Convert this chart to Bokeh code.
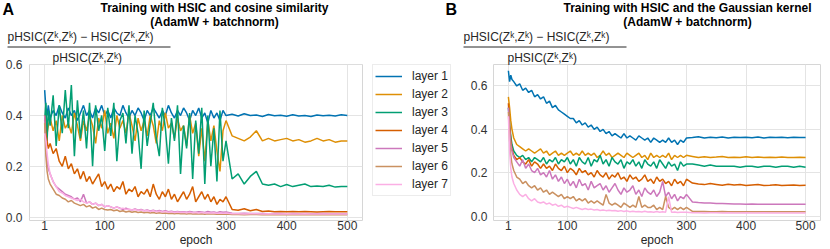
import numpy as np
from bokeh.plotting import figure
from bokeh.models import (Range1d, FixedTicker, Legend, LegendItem,
                          ColumnDataSource, NumeralTickFormatter)
from bokeh.layouts import row, column
from bokeh.core.properties import value
from bokeh.embed import file_html
from bokeh.resources import INLINE

# ---------------- data ----------------
epochs = [1, 3, 5, 7] + list(range(10, 301, 5)) + list(range(310, 501, 10))
layer_names = ["layer 1", "layer 2", "layer 3", "layer 4", "layer 5", "layer 6", "layer 7"]
colors = ["#0173B2", "#DE8F05", "#029E73", "#D55E00", "#CC78BC", "#CA9161", "#FBAFE4"]
x_ticks = [1, 100, 200, 300, 400, 500]
y_ticks = [0.0, 0.2, 0.4, 0.6]
titles_a = ["Training with HSIC and cosine similarity", "(AdamW + batchnorm)"]
titles_b = ["Training with HSIC and the Gaussian kernel", "(AdamW + batchnorm)"]
ylabel_num = "pHSIC(Z\u1d4f,Z\u1d4f) \u2212 HSIC(Z\u1d4f,Z\u1d4f)"
ylabel_den = "pHSIC(Z\u1d4f,Z\u1d4f)"
xlabel = "epoch"

# Panel A: HSIC + cosine similarity
a1 = [.50, .43, .40, .44,
      .39, .42, .40, .44, .41, .39, .43, .40, .42, .38,
      .41, .44, .40, .42, .39, .43, .41, .44, .40, .42,
      .39, .43, .41, .40, .44, .41, .39, .42, .40, .43,
      .41, .38, .42, .40, .43, .41, .39, .42, .40, .44,
      .41, .39, .42, .40, .43, .41, .38, .42, .40, .43,
      .39, .41, .37, .42, .39, .41, .38, .42, .40,
      .405, .398, .407, .400, .402, .396, .404, .399, .401, .397,
      .403, .398, .400, .396, .402, .399, .401, .398, .403, .400]
a2 = [.38, .40, .33, .36,
      .39, .34, .38, .30, .40, .35, .37, .33, .41, .36,
      .30, .38, .34, .40, .36, .29, .39, .35, .42, .33,
      .37, .31, .40, .35, .38, .33, .41, .36, .30, .39,
      .34, .38, .32, .40, .36, .29, .38, .34, .41, .35,
      .37, .31, .39, .34, .36, .28, .40, .33, .37, .24,
      .35, .22, .38, .30, .36, .26, .18, .34, .38,
      .32, .31, .30, .315, .34, .30, .31, .30, .305, .31,
      .30, .305, .295, .30, .31, .30, .305, .295, .30, .30]
a3 = [.38, .45, .30, .42,
      .36, .48, .28, .44, .33, .50, .35, .52, .24, .46,
      .31, .42, .27, .45, .20, .44, .34, .40, .26, .43,
      .32, .45, .22, .38, .41, .29, .44, .25, .40, .33,
      .19, .42, .28, .37, .45, .31, .24, .43, .35, .21,
      .39, .30, .44, .17, .36, .27, .41, .15, .38, .25,
      .43, .13, .40, .20, .35, .14, .42, .22, .30,
      .15, .17, .13, .16, .18, .13, .125, .13, .12, .128,
      .12, .125, .13, .12, .122, .12, .125, .118, .12, .12]
a4 = [.40, .33, .30, .27,
      .29, .25, .27, .22, .20, .24, .19, .21, .17, .19,
      .15, .18, .14, .16, .13, .15, .17, .12, .14, .11,
      .13, .10, .12, .11, .14, .09, .11, .10, .12, .08,
      .10, .09, .11, .08, .13, .09, .07, .10, .08, .11,
      .07, .09, .06, .08, .10, .07, .09, .12, .06, .08,
      .10, .07, .09, .06, .08, .05, .07, .06, .08,
      .030, .027, .033, .025, .030, .022, .024, .021, .022, .021,
      .022, .021, .022, .021, .020, .021, .022, .021, .021, .021]
a5 = [.40, .28, .22, .19,
      .17, .14, .12, .11, .10, .09, .085, .08, .07, .075,
      .06, .09, .055, .06, .05, .055, .045, .05, .04, .045,
      .04, .035, .04, .035, .03, .035, .03, .028, .032, .027,
      .03, .025, .028, .024, .027, .023, .026, .022, .025, .021,
      .023, .020, .022, .020, .021, .019, .022, .020, .019, .021,
      .020, .018, .022, .019, .020, .017, .021, .019, .020,
      .015, .014, .015, .014, .014, .014, .013, .014, .014, .013,
      .014, .013, .014, .013, .013, .014, .013, .013, .013, .013]
a6 = [.37, .24, .18, .15,
      .13, .11, .09, .085, .075, .07, .06, .065, .055, .05,
      .045, .05, .04, .045, .035, .04, .03, .035, .03, .028,
      .03, .025, .028, .022, .025, .02, .023, .019, .022, .018,
      .02, .017, .019, .016, .018, .015, .017, .015, .016, .014,
      .015, .013, .015, .013, .014, .012, .014, .012, .013, .012,
      .013, .011, .013, .012, .012, .011, .012, .011, .012,
      .010, .010, .009, .010, .010, .009, .010, .009, .009, .010,
      .009, .009, .010, .009, .009, .009, .009, .009, .009, .009]
a7 = [.33, .30, .25, .21,
      .17, .14, .12, .10, .095, .085, .08, .075, .07, .065,
      .07, .06, .055, .06, .05, .055, .045, .05, .04, .045,
      .04, .035, .04, .033, .035, .03, .032, .028, .03, .026,
      .028, .024, .026, .022, .025, .021, .023, .02, .022, .019,
      .021, .018, .02, .018, .019, .017, .019, .017, .018, .016,
      .018, .016, .017, .016, .017, .015, .016, .015, .016,
      .013, .013, .012, .013, .013, .012, .013, .012, .012, .013,
      .012, .012, .013, .012, .012, .012, .012, .012, .012, .012]

# Panel B: HSIC + Gaussian kernel
b1 = [.67, .62, .65, .63,
      .62, .60, .61, .58, .59, .57, .58, .55, .56, .54,
      .55, .52, .53, .50, .51, .49, .48, .47, .46, .45,
      .45, .43, .44, .42, .43, .41, .42, .40, .41, .39,
      .40, .38, .39, .37, .38, .37, .36, .38, .36, .37,
      .36, .35, .37, .36, .35, .36, .34, .36, .35, .34,
      .35, .34, .36, .34, .35, .33, .35, .34, .36,
      .362, .366, .360, .364, .361, .365, .360, .363, .362, .364,
      .361, .365, .360, .363, .362, .364, .361, .363, .362, .362]
b2 = [.55, .50, .44, .40,
      .36, .33, .32, .31, .30, .31, .30, .29, .30, .31,
      .29, .30, .28, .29, .30, .28, .29, .28, .29, .30,
      .28, .29, .28, .30, .28, .29, .28, .29, .27, .28,
      .30, .28, .29, .27, .28, .29, .28, .27, .29, .28,
      .27, .28, .29, .27, .28, .26, .29, .27, .28, .27,
      .28, .27, .29, .26, .28, .27, .28, .27, .28,
      .275, .270, .274, .270, .272, .275, .270, .271, .270, .273,
      .270, .272, .270, .271, .270, .272, .270, .270, .271, .270]
b3 = [.50, .42, .37, .33,
      .30, .28, .27, .28, .26, .27, .25, .27, .26, .25,
      .27, .24, .26, .25, .27, .24, .26, .25, .27, .24,
      .26, .23, .27, .25, .24, .27, .23, .26, .25, .28,
      .24, .26, .23, .27, .25, .24, .26, .22, .25, .24,
      .26, .23, .25, .22, .26, .24, .23, .25, .22, .26,
      .24, .22, .25, .23, .24, .21, .25, .23, .24,
      .240, .235, .230, .235, .230, .230, .230, .230, .225, .230,
      .230, .225, .230, .230, .225, .230, .230, .225, .230, .225]
b4 = [.52, .42, .35, .31,
      .28, .26, .27, .25, .24, .26, .23, .25, .24, .22,
      .24, .22, .23, .21, .24, .22, .21, .23, .20, .22,
      .21, .19, .22, .20, .21, .19, .20, .18, .21, .19,
      .18, .20, .17, .19, .18, .20, .17, .18, .16, .19,
      .17, .18, .16, .17, .19, .16, .17, .15, .18, .16,
      .17, .15, .16, .14, .17, .15, .16, .14, .17,
      .152, .148, .145, .150, .146, .142, .147, .143, .145, .141,
      .143, .145, .141, .142, .144, .141, .142, .143, .141, .142]
b5 = [.50, .40, .33, .30,
      .27, .25, .23, .26, .22, .24, .21, .20, .22, .19,
      .20, .18, .21, .17, .19, .16, .18, .15, .17, .14,
      .16, .13, .17, .14, .15, .12, .16, .13, .14, .15,
      .12, .14, .11, .13, .15, .12, .10, .13, .11, .12,
      .14, .10, .12, .09, .13, .11, .10, .12, .09, .11,
      .16, .09, .11, .08, .10, .07, .09, .08, .10,
      .065, .062, .060, .060, .058, .058, .057, .056, .056, .055,
      .056, .055, .055, .055, .054, .055, .055, .054, .055, .055]
b6 = [.48, .35, .28, .24,
      .21, .18, .17, .15, .16, .14, .13, .14, .12, .13,
      .11, .12, .10, .11, .10, .09, .10, .08, .09, .08,
      .09, .07, .08, .07, .08, .06, .07, .06, .07, .06,
      .05, .10, .06, .05, .06, .05, .04, .06, .05, .04,
      .05, .04, .09, .04, .05, .04, .04, .05, .03, .04,
      .03, .09, .04, .03, .04, .03, .04, .03, .04,
      .022, .021, .021, .020, .020, .021, .020, .020, .020, .020,
      .020, .020, .020, .020, .020, .020, .020, .020, .020, .020]
b7 = [.46, .30, .22, .18,
      .15, .12, .10, .09, .10, .08, .07, .08, .065, .06,
      .065, .055, .06, .05, .055, .045, .05, .04, .045, .04,
      .035, .04, .035, .03, .035, .03, .032, .028, .03, .026,
      .028, .025, .027, .024, .026, .022, .025, .021, .024, .02,
      .022, .02, .021, .019, .022, .019, .02, .018, .021, .018,
      .02, .018, .09, .017, .019, .016, .018, .017, .018,
      .015, .015, .014, .015, .015, .014, .015, .014, .014, .015,
      .014, .014, .015, .014, .014, .014, .014, .014, .014, .014]

panel_a = [a1, a2, a3, a4, a5, a6, a7]
panel_b = [b1, b2, b3, b4, b5, b6, b7]
for s in panel_a + panel_b:
    assert len(s) == len(epochs), len(s)

FONT = "Liberation Sans"
TXT = "#262626"
TOTAL_W = 830
HDR_H = 48
PANEL_H = 249 - HDR_H
WA = 365      # panel A figure width
WL = 98       # legend figure width
WB = TOTAL_W - WA - WL

# ---------------- header (titles + fraction numerator) ----------------
hdr = figure(width=TOTAL_W, height=HDR_H, x_range=Range1d(0, TOTAL_W), y_range=Range1d(HDR_H, 0),
             x_axis_type=None, y_axis_type=None, output_backend="svg", toolbar_location=None,
             min_border=0)
hdr.grid.visible = False
hdr.outline_line_color = None
hdr.background_fill_color = "white"
hdr.border_fill_color = "white"

ta_x, tb_x = 214, 687
hdr.text(x=[ta_x, ta_x, tb_x, tb_x], y=[7, 21.5, 7, 21.5],
         text=[titles_a[0], titles_a[1], titles_b[0], titles_b[1]],
         text_font=value(FONT), text_font_size=value("12px"), text_font_style="bold",
         text_align="center", text_baseline="middle", text_color="black")
hdr.text(x=[2, 445], y=[9, 9], text=["A", "B"],
         text_font=value(FONT), text_font_size=value("16px"), text_font_style="bold",
         text_align="left", text_baseline="middle", text_color="black")
hdr.text(x=[7, 463], y=[36.5, 36.5], text=[ylabel_num, ylabel_num],
         text_font=value(FONT), text_font_size=value("12px"),
         text_align="left", text_baseline="middle", text_color=TXT)
hdr.segment(x0=[7, 463], y0=[46.5, 46.5], x1=[170, 626], y1=[46.5, 46.5],
            line_color=TXT, line_width=1)


def make_panel(series, width, left, right, yr, den_offset, standoff):
    src = ColumnDataSource(dict(epoch=epochs, **{f"l{i}": s for i, s in enumerate(series)}))
    p = figure(width=width, height=PANEL_H, x_range=Range1d(-24, 525), y_range=Range1d(*yr),
               title=ylabel_den, output_backend="svg", toolbar_location=None,
               min_border_left=left, min_border_right=right,
               min_border_top=13, min_border_bottom=8)
    p.title.align = "left"
    p.title.offset = den_offset
    p.title.standoff = 0
    p.title.text_font = FONT
    p.title.text_font_size = "12px"
    p.title.text_font_style = "normal"
    p.title.text_color = TXT
    p.title.text_line_height = 0.6
    p.background_fill_color = "white"
    p.border_fill_color = "white"
    p.outline_line_color = "#d6d6d6"
    p.outline_line_width = 1
    p.xaxis.ticker = FixedTicker(ticks=x_ticks)
    p.yaxis.ticker = FixedTicker(ticks=y_ticks)
    p.yaxis.formatter = NumeralTickFormatter(format="0.0")
    for ax in (p.xaxis, p.yaxis):
        ax.axis_line_color = None
        ax.major_tick_line_color = None
        ax.minor_tick_line_color = None
        ax.major_tick_out = 0
        ax.major_tick_in = 0
        ax.minor_tick_out = 0
        ax.major_label_text_font = FONT
        ax.major_label_text_font_size = "12px"
        ax.major_label_text_color = "#333333"
    p.xaxis.major_label_standoff = 0
    p.yaxis.major_label_standoff = standoff
    p.xaxis.axis_label = xlabel
    p.xaxis.axis_label_standoff = 0
    p.xaxis.axis_label_text_font = FONT
    p.xaxis.axis_label_text_font_size = "12px"
    p.xaxis.axis_label_text_font_style = "normal"
    p.xaxis.axis_label_text_color = TXT
    p.grid.grid_line_color = "#e4e4e4"
    p.grid.grid_line_width = 1
    rs = [p.line("epoch", f"l{i}", source=src, color=colors[i], line_width=1.5) for i in range(7)]
    return p, rs


pa, ra = make_panel(panel_a, WA, 29, WA - 362, (-0.0136, 0.601), 23, 7)
pb, rb = make_panel(panel_b, WB, 30, WB - 327 - 30, (-0.0205, 0.699), 14, 6)

# ---------------- legend (own small canvas between the panels) ----------------
pl = figure(width=WL, height=PANEL_H, x_range=Range1d(0, 1), y_range=Range1d(0, 1),
            x_axis_type=None, y_axis_type=None, output_backend="svg", toolbar_location=None,
            min_border=0)
pl.grid.visible = False
pl.outline_line_color = None
pl.background_fill_color = "white"
pl.border_fill_color = "white"
empty = ColumnDataSource(dict(x=np.array([np.nan]), y=np.array([np.nan])))
proxies = [pl.line("x", "y", source=empty, color=c, line_width=1.5) for c in colors]
legend = Legend(items=[LegendItem(label=n, renderers=[r]) for n, r in zip(layer_names, proxies)],
                location=(7, 24))
legend.label_text_font = FONT
legend.label_text_font_size = "12px"
legend.label_text_color = TXT
legend.glyph_width = 27
legend.glyph_height = 18
legend.label_height = 18
legend.spacing = 0
legend.padding = 2
legend.margin = 0
legend.label_standoff = 10
legend.border_line_color = "#d9d9d9"
legend.border_line_width = 1
legend.background_fill_alpha = 0.9
pl.add_layout(legend)

layout = column(hdr, row(pa, pl, pb))
open("out.html", "w").write(file_html(layout, INLINE))
